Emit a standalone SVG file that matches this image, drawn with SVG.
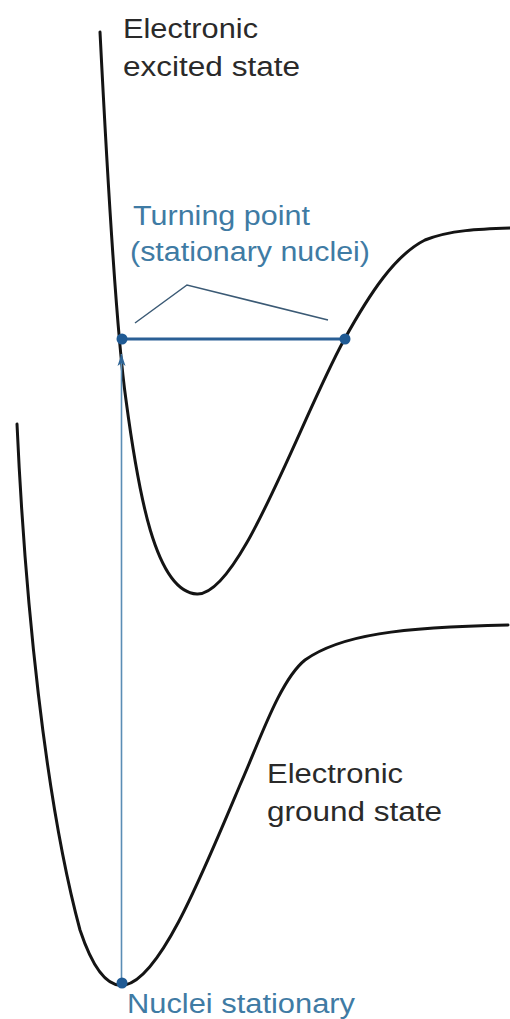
<svg xmlns="http://www.w3.org/2000/svg" width="510" height="1019" viewBox="0 0 510 1019">
<style>
.curve{fill:none;stroke:#141414;stroke-width:3;stroke-linecap:round}
.lbl{font-family:"Liberation Sans",Arial,sans-serif;font-size:27px;fill:#2a2a2a}
.blbl{font-family:"Liberation Sans",Arial,sans-serif;font-size:27px;fill:#3f7ba4}
.dot{fill:#1f5a94}
</style>
<defs>
<marker id="arr" viewBox="0 0 12 10" refX="12" refY="5" markerWidth="12" markerHeight="10" markerUnits="userSpaceOnUse" orient="auto">
<path d="M12,5 L0,1 L3,5 L0,9 Z" fill="#2f6596"/>
</marker>
</defs>
<rect width="510" height="1019" fill="#ffffff"/>
<g id="excited-curve">
<path class="curve" d="M100,32 C106,150 116,330 126,400 C138,490 155,592 197,594 C240,596 300,420 344,340 C370,293 395,255 425,240 C450,230 480,229 510,228"/>
</g>
<g id="ground-curve">
<path class="curve" d="M17,424 C25,600 45,800 80,930 C95,975 110,988 125,985 C160,978 200,880 240,785 C260,740 280,680 305,660 C340,635 400,627 508,625"/>
</g>
<g id="connectors">
<line x1="121.5" y1="983" x2="121.5" y2="354" stroke="#5a8db5" stroke-width="1.6" marker-end="url(#arr)"/>
<line x1="122" y1="339" x2="345" y2="339" stroke="#2a5f95" stroke-width="3"/>
<polyline points="135,323 187,285 328,320" fill="none" stroke="#3b5a75" stroke-width="1.5"/>
</g>
<g id="turning-points">
<circle class="dot" cx="122" cy="339" r="5.5"/>
<circle class="dot" cx="345" cy="339" r="5.5"/>
</g>
<g id="ground-min">
<circle class="dot" cx="122" cy="983" r="5.5"/>
</g>
<g id="label-excited">
<text class="lbl" x="123" y="38" textLength="135" lengthAdjust="spacingAndGlyphs">Electronic</text>
<text class="lbl" x="123" y="76" textLength="177" lengthAdjust="spacingAndGlyphs">excited state</text>
</g>
<g id="label-turning">
<text class="blbl" x="133" y="225" textLength="177" lengthAdjust="spacingAndGlyphs">Turning point</text>
<text class="blbl" x="130" y="261" textLength="240" lengthAdjust="spacingAndGlyphs">(stationary nuclei)</text>
</g>
<g id="label-ground">
<text class="lbl" x="267" y="783" textLength="136" lengthAdjust="spacingAndGlyphs">Electronic</text>
<text class="lbl" x="267" y="821" textLength="175" lengthAdjust="spacingAndGlyphs">ground state</text>
</g>
<g id="label-nuclei">
<text class="blbl" x="127" y="1013" textLength="228" lengthAdjust="spacingAndGlyphs">Nuclei stationary</text>
</g>
</svg>
